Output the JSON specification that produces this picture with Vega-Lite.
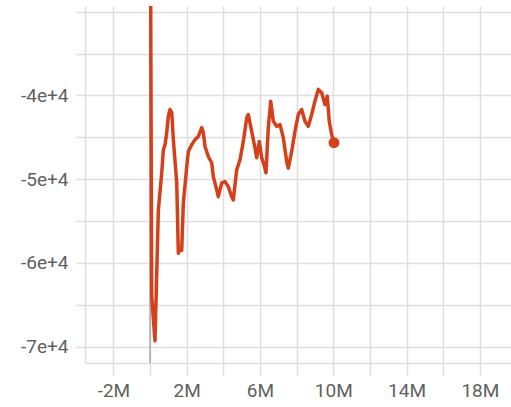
{
  "$schema": "https://vega.github.io/schema/vega-lite/v6.json",
  "autosize": "none",
  "width": 426,
  "height": 357,
  "padding": {"left": 85, "top": 6, "right": 0, "bottom": 44},
  "background": "white",
  "config": {
    "view": {"stroke": null},
    "axis": {
      "labelFont": "Roboto",
      "labelFontSize": 19,
      "labelColor": "#616161",
      "gridColor": "#dedede",
      "gridWidth": 1.5,
      "tickColor": "#dedede",
      "tickWidth": 1.5,
      "domainColor": "#dedede",
      "domainWidth": 1.5,
      "title": null
    }
  },
  "data": {
    "values": [
      {"step": 30000, "value": -25000},
      {"step": 90000, "value": -64000},
      {"step": 270000, "value": -69300},
      {"step": 453000, "value": -53690},
      {"step": 638000, "value": -49240},
      {"step": 726000, "value": -46480},
      {"step": 818000, "value": -45880},
      {"step": 911000, "value": -44440},
      {"step": 998000, "value": -42480},
      {"step": 1091000, "value": -41680},
      {"step": 1184000, "value": -42040},
      {"step": 1271000, "value": -45280},
      {"step": 1457000, "value": -50440},
      {"step": 1544000, "value": -58850},
      {"step": 1640000, "value": -58300},
      {"step": 1729000, "value": -58490},
      {"step": 1817000, "value": -52850},
      {"step": 2002000, "value": -48520},
      {"step": 2090000, "value": -46690},
      {"step": 2275000, "value": -45880},
      {"step": 2455000, "value": -45280},
      {"step": 2635000, "value": -44890},
      {"step": 2821000, "value": -43840},
      {"step": 2908000, "value": -44440},
      {"step": 3001000, "value": -46090},
      {"step": 3181000, "value": -47290},
      {"step": 3273000, "value": -47680},
      {"step": 3366000, "value": -48040},
      {"step": 3453000, "value": -49690},
      {"step": 3639000, "value": -51280},
      {"step": 3726000, "value": -52090},
      {"step": 3912000, "value": -50440},
      {"step": 4092000, "value": -50290},
      {"step": 4272000, "value": -50890},
      {"step": 4457000, "value": -52090},
      {"step": 4544000, "value": -52490},
      {"step": 4730000, "value": -48880},
      {"step": 4910000, "value": -47680},
      {"step": 5090000, "value": -45490},
      {"step": 5276000, "value": -42680},
      {"step": 5363000, "value": -42280},
      {"step": 5548000, "value": -44290},
      {"step": 5728000, "value": -46280},
      {"step": 5821000, "value": -47440},
      {"step": 5963000, "value": -45490},
      {"step": 6094000, "value": -47440},
      {"step": 6219000, "value": -48280},
      {"step": 6329000, "value": -49240},
      {"step": 6454000, "value": -43840},
      {"step": 6585000, "value": -40680},
      {"step": 6727000, "value": -43090},
      {"step": 6912000, "value": -43690},
      {"step": 7092000, "value": -43480},
      {"step": 7272000, "value": -45040},
      {"step": 7458000, "value": -47890},
      {"step": 7545000, "value": -48680},
      {"step": 7730000, "value": -46690},
      {"step": 7911000, "value": -44290},
      {"step": 8091000, "value": -42280},
      {"step": 8276000, "value": -41680},
      {"step": 8456000, "value": -43090},
      {"step": 8636000, "value": -43690},
      {"step": 8822000, "value": -42280},
      {"step": 9002000, "value": -40680},
      {"step": 9182000, "value": -39280},
      {"step": 9367000, "value": -39680},
      {"step": 9547000, "value": -41080},
      {"step": 9673000, "value": -40080},
      {"step": 9782000, "value": -43090},
      {"step": 9913000, "value": -44680},
      {"step": 10038000, "value": -45640}
    ]
  },
  "encoding": {
    "x": {
      "field": "step",
      "type": "quantitative",
      "scale": {"domain": [-3550000, 19700000], "nice": false, "zero": false},
      "axis": {
        "values": [-2000000, 0, 2000000, 4000000, 6000000, 8000000, 10000000, 12000000, 14000000, 16000000, 18000000],
        "format": "~s",
        "labelExpr": "(datum.value / 1000000 + 2) % 4 == 0 ? replace(datum.label, '\u2212', '-') : ''",
        "tickSize": 12,
        "labelPadding": 6,
        "grid": true
      }
    },
    "y": {
      "field": "value",
      "type": "quantitative",
      "scale": {"domain": [-71950, -29320], "nice": false, "zero": false},
      "axis": {
        "values": [-70000, -65000, -60000, -55000, -50000, -45000, -40000, -35000, -30000],
        "format": "~e",
        "labelExpr": "(datum.value % 10000 == 0 && datum.value < -35000) ? replace(datum.label, '\u2212', '-') : ''",
        "tickSize": 9,
        "labelPadding": 8,
        "grid": true
      }
    }
  },
  "layer": [
    {
      "data": {"values": [{"step": 0}]},
      "mark": {"type": "rule", "color": "#a6a6a6", "strokeWidth": 1.5},
      "encoding": {"x": {"field": "step", "type": "quantitative"}, "y": {"value": 0}, "y2": {"value": 357}}
    },
    {
      "mark": {"type": "line", "color": "#d5401b", "strokeWidth": 3.5, "clip": true, "strokeJoin": "round"}
    },
    {
      "transform": [{"filter": "datum.step == 10038000"}],
      "mark": {"type": "point", "filled": true, "color": "#d5401b", "size": 120, "opacity": 1}
    }
  ]
}
